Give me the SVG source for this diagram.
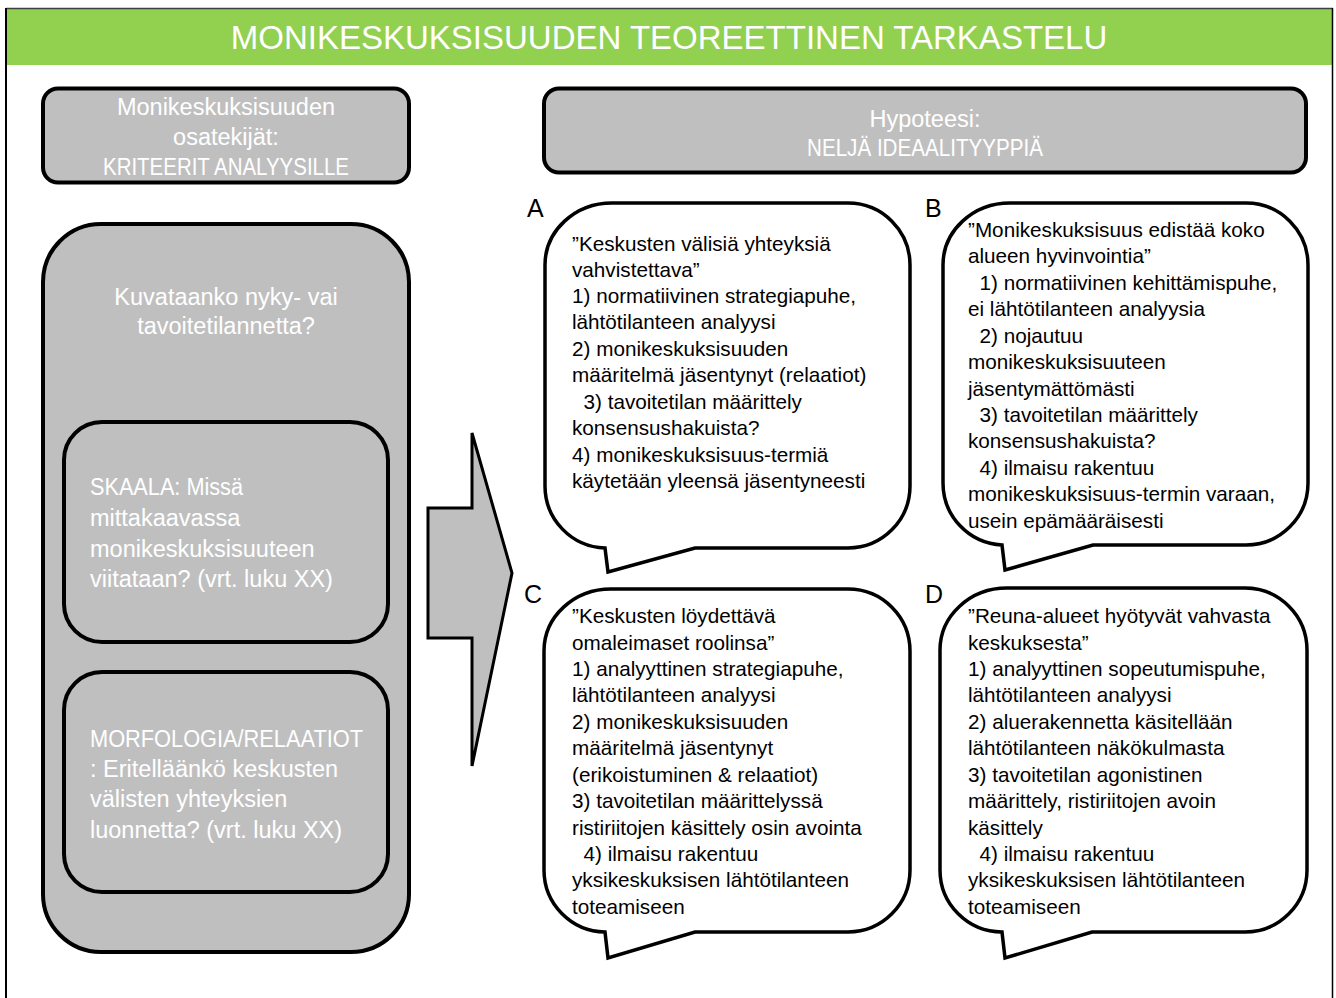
<svg xmlns="http://www.w3.org/2000/svg" width="1336" height="998" viewBox="0 0 1336 998">
<defs>
<style>
.box{fill:#BFBFBF;stroke:#000;stroke-width:4}
.bub{fill:#FFFFFF;stroke:#000;stroke-width:3.5;stroke-linejoin:miter}
.wt{font-family:"Liberation Sans",Arial,sans-serif;font-size:23.5px;fill:#FFFFFF}
.wc{font-family:"Liberation Sans",Arial,sans-serif;font-size:23.5px;fill:#FFFFFF;text-anchor:middle}
.bt{font-family:"Liberation Sans",Arial,sans-serif;font-size:20.7px;fill:#000}
.lt{font-family:"Liberation Sans",Arial,sans-serif;font-size:25px;fill:#000}
</style>
</defs>
<rect width="1336" height="998" fill="#FFFFFF"/>
<g id="frame">
<rect x="7" y="8.5" width="1325" height="56.5" fill="#92D050"/>
<line x1="6" y1="8.5" x2="1333" y2="8.5" stroke="#404040" stroke-width="1.5"/>
<line x1="6" y1="8" x2="6" y2="998" stroke="#000" stroke-width="2"/>
<line x1="1332.5" y1="8" x2="1332.5" y2="998" stroke="#000" stroke-width="1.5"/>
<text x="669" y="49" text-anchor="middle" font-family="Liberation Sans, Arial, sans-serif" font-size="33" fill="#FFFFFF">MONIKESKUKSISUUDEN TEOREETTINEN TARKASTELU</text>
</g>
<g id="criteria">
<rect class="box" x="43" y="88.5" width="366" height="94" rx="15"/>
<text class="wc" x="226" y="115">Monikeskuksisuuden</text>
<text class="wc" x="226" y="145">osatekijät:</text>
<text class="wc" x="226" y="175" textLength="246" lengthAdjust="spacingAndGlyphs">KRITEERIT ANALYYSILLE</text>
</g>
<g id="hypothesis">
<rect class="box" x="544" y="88.5" width="762" height="84" rx="15"/>
<text class="wc" x="925" y="127">Hypoteesi:</text>
<text class="wc" x="925" y="156" textLength="236" lengthAdjust="spacingAndGlyphs">NELJÄ IDEAALITYYPPIÄ</text>
</g>
<g id="question">
<rect class="box" x="43" y="224" width="366" height="728" rx="58"/>
<text class="wc" x="226" y="305">Kuvataanko nyky- vai</text>
<text class="wc" x="226" y="334">tavoitetilannetta?</text>
</g>
<g id="scale">
<rect class="box" x="64" y="422" width="324" height="220" rx="38"/>
<text class="wt" x="90" y="495" textLength="153" lengthAdjust="spacingAndGlyphs">SKAALA: Missä</text>
<text class="wt" x="90" y="526">mittakaavassa</text>
<text class="wt" x="90" y="557">monikeskuksisuuteen</text>
<text class="wt" x="90" y="587">viitataan? (vrt. luku XX)</text>
</g>
<g id="morphology">
<rect class="box" x="64" y="672" width="324" height="220" rx="38"/>
<text class="wt" x="90" y="747" textLength="273" lengthAdjust="spacingAndGlyphs">MORFOLOGIA/RELAATIOT</text>
<text class="wt" x="90" y="777">: Eritelläänkö keskusten</text>
<text class="wt" x="90" y="807">välisten yhteyksien</text>
<text class="wt" x="90" y="838">luonnetta? (vrt. luku XX)</text>
</g>
<g id="connectors">
<polygon points="428,508 472,508 472,433 512,573 472,766 472,638 428,638" fill="#BFBFBF" stroke="#000" stroke-width="3"/>
</g>
<g id="typeA">
<path class="bub" d="M612,203 H848 A62,62 0 0 1 910,265 V486 A62,62 0 0 1 848,548 H695 L608,572 L605,548 A62,62 0 0 1 545,486 V265 A67,62 0 0 1 612,203 Z"/>
<text class="lt" x="527" y="217">A</text>
<text class="bt" x="572" y="251">”Keskusten välisiä yhteyksiä</text>
<text class="bt" x="572" y="277">vahvistettava”</text>
<text class="bt" x="572" y="303">1) normatiivinen strategiapuhe,</text>
<text class="bt" x="572" y="329">lähtötilanteen analyysi</text>
<text class="bt" x="572" y="356">2) monikeskuksisuuden</text>
<text class="bt" x="572" y="382">määritelmä jäsentynyt (relaatiot)</text>
<text class="bt" x="572" y="409" xml:space="preserve">  3) tavoitetilan määrittely</text>
<text class="bt" x="572" y="435">konsensushakuista?</text>
<text class="bt" x="572" y="462">4) monikeskuksisuus-termiä</text>
<text class="bt" x="572" y="488">käytetään yleensä jäsentyneesti</text>
</g>
<g id="typeB">
<path class="bub" d="M1010,203 H1246 A62,62 0 0 1 1308,265 V483 A62,62 0 0 1 1246,545 H1093 L1005,570 L1002,545 A62,62 0 0 1 943,483 V265 A67,62 0 0 1 1010,203 Z"/>
<text class="lt" x="925" y="217">B</text>
<text class="bt" x="968" y="237">”Monikeskuksisuus edistää koko</text>
<text class="bt" x="968" y="263">alueen hyvinvointia”</text>
<text class="bt" x="968" y="290" xml:space="preserve">  1) normatiivinen kehittämispuhe,</text>
<text class="bt" x="968" y="316">ei lähtötilanteen analyysia</text>
<text class="bt" x="968" y="343" xml:space="preserve">  2) nojautuu</text>
<text class="bt" x="968" y="369">monikeskuksisuuteen</text>
<text class="bt" x="968" y="396">jäsentymättömästi</text>
<text class="bt" x="968" y="422" xml:space="preserve">  3) tavoitetilan määrittely</text>
<text class="bt" x="968" y="448">konsensushakuista?</text>
<text class="bt" x="968" y="475" xml:space="preserve">  4) ilmaisu rakentuu</text>
<text class="bt" x="968" y="501">monikeskuksisuus-termin varaan,</text>
<text class="bt" x="968" y="528">usein epämääräisesti</text>
</g>
<g id="typeC">
<path class="bub" d="M611,589 H848 A62,62 0 0 1 910,651 V870 A62,62 0 0 1 848,932 H695 L608,958 L605,932 A62,62 0 0 1 544,870 V651 A67,62 0 0 1 611,589 Z"/>
<text class="lt" x="524" y="603">C</text>
<text class="bt" x="572" y="623">”Keskusten löydettävä</text>
<text class="bt" x="572" y="650">omaleimaset roolinsa”</text>
<text class="bt" x="572" y="676">1) analyyttinen strategiapuhe,</text>
<text class="bt" x="572" y="702">lähtötilanteen analyysi</text>
<text class="bt" x="572" y="729">2) monikeskuksisuuden</text>
<text class="bt" x="572" y="755">määritelmä jäsentynyt</text>
<text class="bt" x="572" y="782">(erikoistuminen &amp; relaatiot)</text>
<text class="bt" x="572" y="808">3) tavoitetilan määrittelyssä</text>
<text class="bt" x="572" y="835">ristiriitojen käsittely osin avointa</text>
<text class="bt" x="572" y="861" xml:space="preserve">  4) ilmaisu rakentuu</text>
<text class="bt" x="572" y="887">yksikeskuksisen lähtötilanteen</text>
<text class="bt" x="572" y="914">toteamiseen</text>
</g>
<g id="typeD">
<path class="bub" d="M1007,588 H1245 A62,62 0 0 1 1307,650 V870 A62,62 0 0 1 1245,932 H1092 L1005,958 L1002,932 A62,62 0 0 1 940,870 V650 A67,62 0 0 1 1007,588 Z"/>
<text class="lt" x="925" y="603">D</text>
<text class="bt" x="968" y="623">”Reuna-alueet hyötyvät vahvasta</text>
<text class="bt" x="968" y="650">keskuksesta”</text>
<text class="bt" x="968" y="676">1) analyyttinen sopeutumispuhe,</text>
<text class="bt" x="968" y="702">lähtötilanteen analyysi</text>
<text class="bt" x="968" y="729">2) aluerakennetta käsitellään</text>
<text class="bt" x="968" y="755">lähtötilanteen näkökulmasta</text>
<text class="bt" x="968" y="782">3) tavoitetilan agonistinen</text>
<text class="bt" x="968" y="808">määrittely, ristiriitojen avoin</text>
<text class="bt" x="968" y="835">käsittely</text>
<text class="bt" x="968" y="861" xml:space="preserve">  4) ilmaisu rakentuu</text>
<text class="bt" x="968" y="887">yksikeskuksisen lähtötilanteen</text>
<text class="bt" x="968" y="914">toteamiseen</text>
</g>
</svg>
